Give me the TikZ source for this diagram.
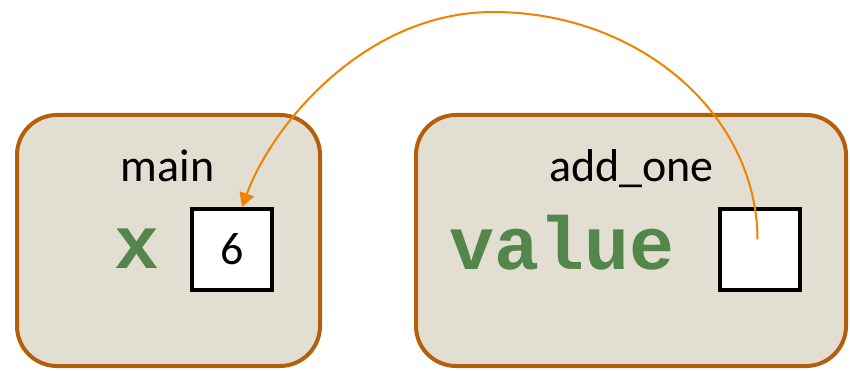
\documentclass[tikz,border=0pt]{standalone}
\usepackage{fontspec}
\setmainfont{Carlito}
\setmonofont{Liberation Mono}
\usetikzlibrary{arrows.meta}

\definecolor{framefill}{HTML}{E3DED2}
\definecolor{framedraw}{HTML}{B4600A}
\definecolor{arrowcol}{HTML}{F08200}
\definecolor{varcol}{HTML}{53864A}

\tikzset{
    frame/.style={draw=framedraw, fill=framefill, line width=4pt,
        rounded corners=40pt, inner sep=0pt},
    cell/.style={draw=black, fill=white, line width=4pt, inner sep=0pt,
        minimum width=80pt, minimum height=81pt},
    framename/.style={anchor=base, inner sep=0pt, font=\fontsize{46}{50}\selectfont},
    varname/.style={anchor=base, inner sep=0pt, text=varcol,
        font=\ttfamily\bfseries\fontsize{75}{80}\selectfont},
}

\begin{document}
\begin{tikzpicture}[x=1pt, y=-1pt]
    \useasboundingbox (0,0) rectangle (850,371);

    % the two stack frames
    \node[frame, minimum width=303pt, minimum height=251pt] (mainframe) at (168.5,240.5) {};
    \node[frame, minimum width=430pt, minimum height=251pt] (addframe)  at (631,240.5) {};

    % frame names
    \node[framename] (mainlbl) at (167.5,182) {main};
    \node[framename] (addlbl)  at (631.5,182) {add\_one};

    % variables and their cells
    \node[varname] (xname)   at (137,268) {x};
    \node[cell, font=\fontsize{46}{50}\selectfont] (xcell) at (232,249.5) {6};
    \node[varname] (valname) at (562,269) {value};
    \node[cell] (valcell) at (759.5,249.5) {};

    % reference from value back to x
    \coordinate (apex) at (493,12);
    \draw[arrowcol, line width=2pt, -{Triangle[length=14pt,width=15pt]}]
        ([xshift=-2pt,yshift=10pt]valcell.center) .. controls (757,114) and (639,12) .. (apex)
        .. controls (365,12) and (272,125) .. ([xshift=10pt]xcell.north);
\end{tikzpicture}
\end{document}
